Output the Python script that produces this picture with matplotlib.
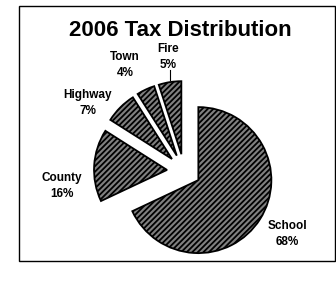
import matplotlib
matplotlib.use("Agg")
import matplotlib.pyplot as plt
from matplotlib.patches import Rectangle

plt.rcParams['font.family'] = ['Liberation Sans', 'DejaVu Sans']
plt.rcParams['hatch.linewidth'] = 1.3
plt.rcParams['hatch.color'] = 'black'

# data
categories = ['School', 'County', 'Highway', 'Town', 'Fire']
shares = [68, 16, 7, 4, 5]
title = '2006 Tax Distribution'

W, H = 336, 287
fig = plt.figure(figsize=(W / 100, H / 100), dpi=100)
ax = fig.add_axes([0, 0, 1, 1])

# outer box
fig.patches.append(Rectangle((19 / W, 1 - 261 / H), 316 / W, 255 / H,
                             transform=fig.transFigure, fill=False,
                             edgecolor='black', linewidth=1.0))

# pie in pixel-like units (y up)
cx, cy, r = 184, H - 171, 73
wedges, _ = ax.pie(shares, startangle=90, counterclock=False,
                   center=(cx, cy), radius=r,
                   explode=[17] * len(shares),
                   colors=['#808080'] * len(shares),
                   wedgeprops=dict(edgecolor='black', linewidth=1.3, hatch='//////'))
ax.set_xlim(0, W)
ax.set_ylim(0, H)
ax.set_aspect('equal')
ax.axis('off')

# labels (pixel positions, y from top)
label_pos = {'School': (287, 234), 'County': (62, 186), 'Highway': (88, 103),
             'Town': (125, 65), 'Fire': (168, 57)}
for name, val in zip(categories, shares):
    x, y = label_pos[name]
    ax.text(x, H - y, f'{name}\n{val}%', ha='center', va='center',
            fontsize=8.5, fontweight='bold', linespacing=1.5)

# leader line for Fire
ax.plot([170, 170], [H - 70, H - 80], color='black', linewidth=0.8)

ax.text(180, H - 31, title, ha='center', va='center',
        fontsize=16, fontweight='bold')

fig.savefig('out.png', dpi=100)
